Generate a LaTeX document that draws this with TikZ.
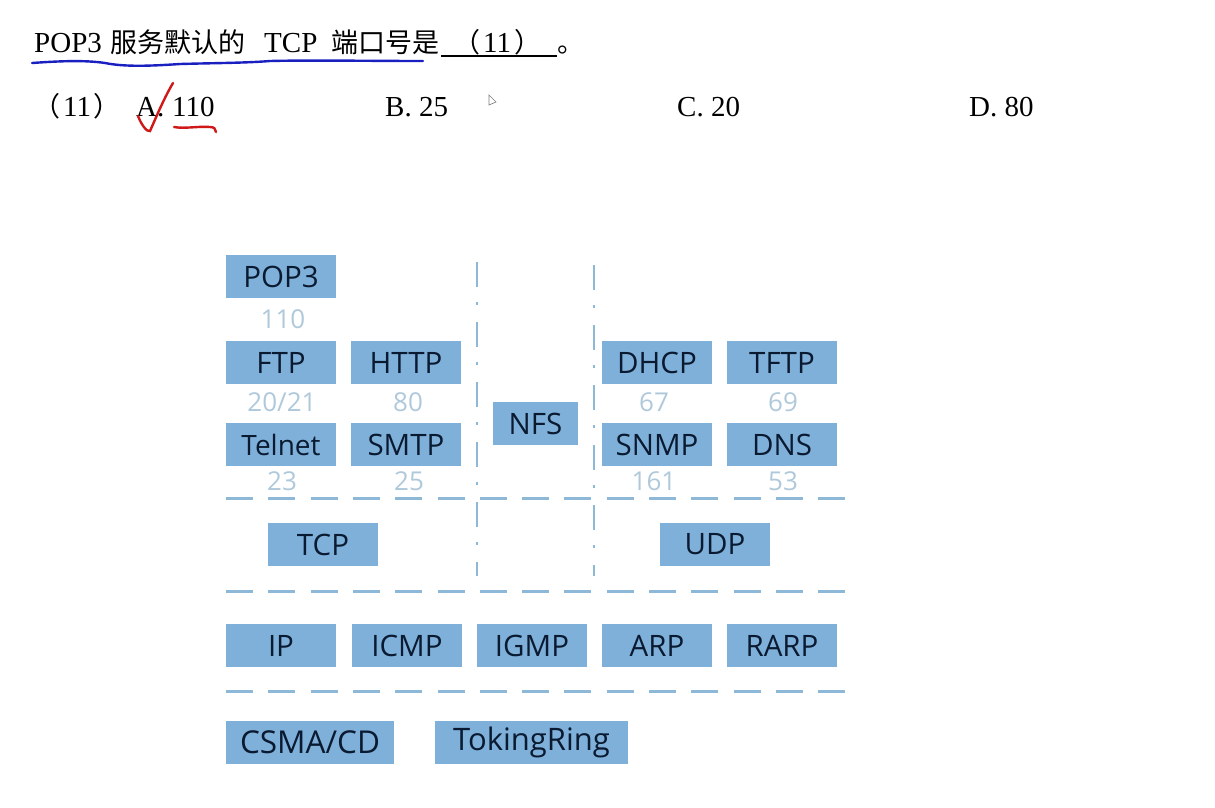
\documentclass[tikz,border=0pt]{standalone}
\usepackage{fontspec}
\setmainfont{Liberation Serif}
\newfontfamily\cjk{Noto Sans CJK SC}
\newfontfamily\boxfont{Open Sans}
\definecolor{boxblue}{HTML}{7FB0DA}
\definecolor{linkblue}{HTML}{8DB8D8}
\definecolor{portgrey}{HTML}{AFC9DB}
\definecolor{inkblue}{HTML}{1A1FC0}
\definecolor{inkred}{HTML}{D01818}
\definecolor{boxtext}{HTML}{0A1A30}
\tikzset{
  x=1pt,y=-1pt,
  proto/.style={fill=boxblue,draw=none,inner sep=0pt,minimum width=110pt,minimum height=43pt,text=boxtext,font=\boxfont\fontsize{29.5}{32}\selectfont},
  port/.style={text=portgrey,inner sep=0pt,font=\boxfont\fontsize{26}{30}\selectfont},
  exam/.style={inner sep=0pt,anchor=base west,text=black,font=\fontsize{29}{32}\selectfont},
  examcjk/.style={exam,font=\cjk\fontsize{27}{32}\selectfont},
  hdash/.style={draw=linkblue,line width=3pt,dash pattern=on 27pt off 15.3pt},
  vdash/.style={draw=linkblue,line width=2.7pt,dash pattern=on 25pt off 15pt on 3pt off 17pt},
}
\begin{document}
\begin{tikzpicture}
\useasboundingbox (0,0) rectangle (1215,807);
% question text
\node[exam] (q1) at (34,52) {POP3};
\node[examcjk] (q2) at (110,52) {服务默认的};
\node[exam] (q3) at (264,52) {TCP};
\node[examcjk] (q4) at (331,52) {端口号是};
\node[examcjk] (q5) at (453,52) {（};
\node[exam] (q6) at (483,52) {11};
\node[examcjk] (q7) at (514,52) {）};
\node[examcjk] (q8) at (557,52) {。};
\draw[black,line width=1.6pt] (441,56) -- (557,56);
\node[examcjk] (a0) at (33,116) {（};
\node[exam] (a1) at (63,116) {11};
\node[examcjk] (a2) at (93,116) {）};
\node[exam] (a3) at (136,116) {A.};
\node[exam] (a4) at (172,116) {110};
\node[exam] (b) at (385,116) {B. 25};
\node[exam] (c) at (677,116) {C. 20};
\node[exam] (d) at (969,116) {D. 80};
% handwriting
\draw[inkblue,line width=2.4pt,line cap=round] (32,63) .. controls (60,61) and (85,60) .. (105,63) .. controls (125,67) and (150,66) .. (180,64) .. controls (215,63) and (245,63) .. (270,61) .. controls (310,60) and (370,61) .. (423,61);
\draw[inkred,line width=2.4pt,line cap=round] (138,116) .. controls (142,126) and (147,132) .. (150,131) .. controls (155,120) and (163,100) .. (173,83);
\draw[inkred,line width=2.4pt,line cap=round] (174,127) .. controls (185,129) and (198,126) .. (210,127) .. controls (214,127) and (216,129) .. (216,132);
% cursor
\draw[gray,line width=.7pt,fill=white] (489,95) -- (489,105) -- (496,102) -- cycle;
% dividers
\coordinate (h1a) at (226,498); \coordinate (h1b) at (847,498);
\coordinate (h2a) at (226,591); \coordinate (h2b) at (847,591);
\coordinate (h3a) at (226,691); \coordinate (h3b) at (847,691);
\coordinate (v1a) at (477,262); \coordinate (v1b) at (477,576);
\coordinate (v2a) at (594,265); \coordinate (v2b) at (594,576);
\draw[vdash] (v1a) -- (v1b);
\draw[vdash] (v2a) -- (v2b);
\draw[hdash] (h1a) -- (h1b);
\draw[hdash] (h2a) -- (h2b);
\draw[hdash] (h3a) -- (h3b);
% boxes
\node[proto] (pop3) at (281,276.5) {POP3};
\node[proto] (ftp) at (281,362.5) {FTP};
\node[proto] (http) at (406,362.5) {HTTP};
\node[proto,font=\boxfont\fontsize{28}{32}\selectfont] (telnet) at (281,444.5) {Telnet};
\node[proto] (smtp) at (406,444.5) {SMTP};
\node[proto,minimum width=85pt] (nfs) at (535.5,423.5) {NFS};
\node[proto] (dhcp) at (657,362.5) {DHCP};
\node[proto] (tftp) at (782,362.5) {TFTP};
\node[proto] (snmp) at (657,444.5) {SNMP};
\node[proto] (dns) at (782,444.5) {DNS};
\node[proto] (tcp) at (323,544.5) {TCP};
\node[proto] (udp) at (715,544.5) {UDP};
\node[proto] (ip) at (281,645.5) {IP};
\node[proto] (icmp) at (407,645.5) {ICMP};
\node[proto] (igmp) at (532,645.5) {IGMP};
\node[proto] (arp) at (657,645.5) {ARP};
\node[proto] (rarp) at (782,645.5) {RARP};
\node[proto,minimum width=168pt,font=\boxfont\fontsize{31.5}{34}\selectfont] (csma) at (310,742) {CSMA/CD};
\node[proto,minimum width=193pt,font=\boxfont\fontsize{31}{34}\selectfont] (token) at (531.5,742) {TokingRing};
% ports
\node[port] (p110) at (283,319) {110};
\node[port] (p2021) at (282,402) {20/21};
\node[port] (p80) at (408,402) {80};
\node[port] (p23) at (282,481) {23};
\node[port] (p25) at (409,481) {25};
\node[port] (p67) at (654,402) {67};
\node[port] (p69) at (783,402) {69};
\node[port] (p161) at (654,481) {161};
\node[port] (p53) at (783,481) {53};
\end{tikzpicture}
\end{document}
